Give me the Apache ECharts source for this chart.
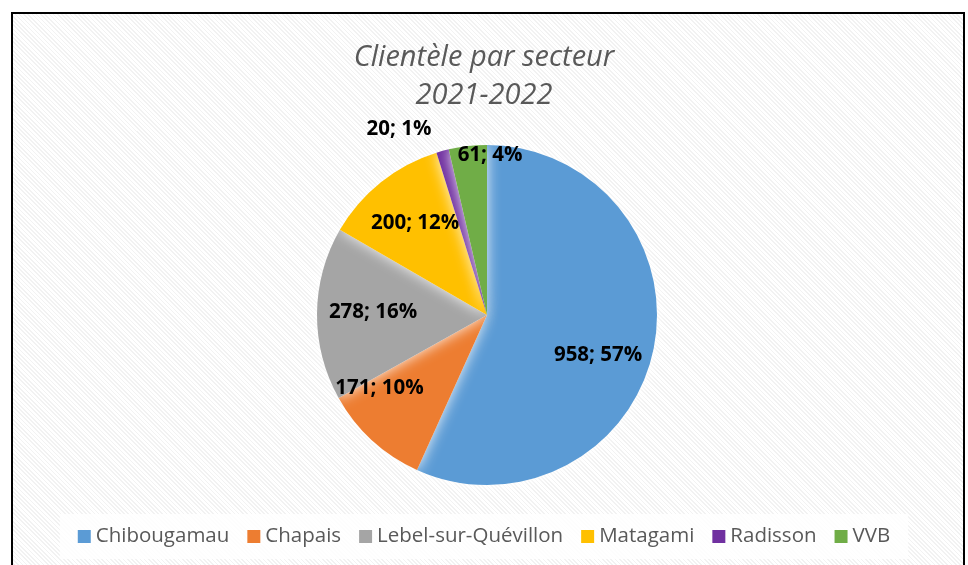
<!DOCTYPE html>
<html>
<head>
<meta charset="utf-8">
<script src="https://cdn.jsdelivr.net/npm/echarts@6/dist/echarts.min.js"></script>
<style>
  html, body { margin: 0; padding: 0; background: #fff; }
  #frame {
    position: absolute; left: 11px; top: 12px; width: 950px; height: 570px;
    border: 2px solid #000;
    background: repeating-linear-gradient(45deg, #ffffff 0px, #ffffff 1.8px, #f2f2f2 1.8px, #f2f2f2 3px);
  }
  #chart { position: absolute; left: 0; top: 0; width: 968px; height: 565px; }
</style>
</head>
<body>
<div id="frame"></div>
<div id="chart"></div>
<script>
// secteurs et clientèle 2021-2022
const categories = ['Chibougamau', 'Chapais', 'Lebel-sur-Quévillon', 'Matagami', 'Radisson', 'VVB']
const clients = [958, 171, 278, 200, 20, 61]
const colors = ['#5B9BD5', '#ED7D31', '#A5A5A5', '#FFC000', '#7030A0', '#70AD47']
// décalage des étiquettes (placement "ajustement optimal" d'Excel)
const labelOffsets = [[25, 22], [-48, 8], [-26, -2], [-17, -23], [-65, -101], [13, -72]]

const font = 'Open Sans'
const chart = echarts.init(document.getElementById('chart'))

const option = {
  backgroundColor: 'transparent',
  color: colors,
  title: {
    text: 'Clientèle par secteur\n2021-2022',
    left: 'center',
    top: 34,
    textStyle: {
      fontFamily: font,
      fontStyle: 'italic',
      fontWeight: 'normal',
      fontSize: 29,
      lineHeight: 38,
      color: '#595959'
    }
  },
  legend: {
    bottom: 6,
    left: 'center',
    itemWidth: 13,
    itemHeight: 13,
    itemGap: 18,
    icon: 'rect',
    padding: [12, 18],
    backgroundColor: 'rgba(255,255,255,0.85)',
    textStyle: { fontFamily: font, fontSize: 20.5, color: '#595959' },
    data: categories
  },
  series: [{
    type: 'pie',
    center: [487, 315],
    radius: 170,
    startAngle: 90,
    clockwise: true,
    percentPrecision: 0,
    avoidLabelOverlap: false,
    labelLine: { show: false },
    itemStyle: { borderWidth: 0, shadowBlur: 14, shadowColor: 'rgba(255,255,255,0.9)' },
    label: {
      show: true,
      position: 'inside',
      formatter: '{c}; {d}%',
      fontFamily: font,
      fontWeight: 'bold',
      fontSize: 20.5,
      color: '#000'
    },
    emphasis: { disabled: true },
    data: categories.map((name, i) => ({
      name: name,
      value: clients[i],
      label: { offset: labelOffsets[i] }
    }))
  }]
}
chart.setOption(option)
</script>
</body>
</html>
